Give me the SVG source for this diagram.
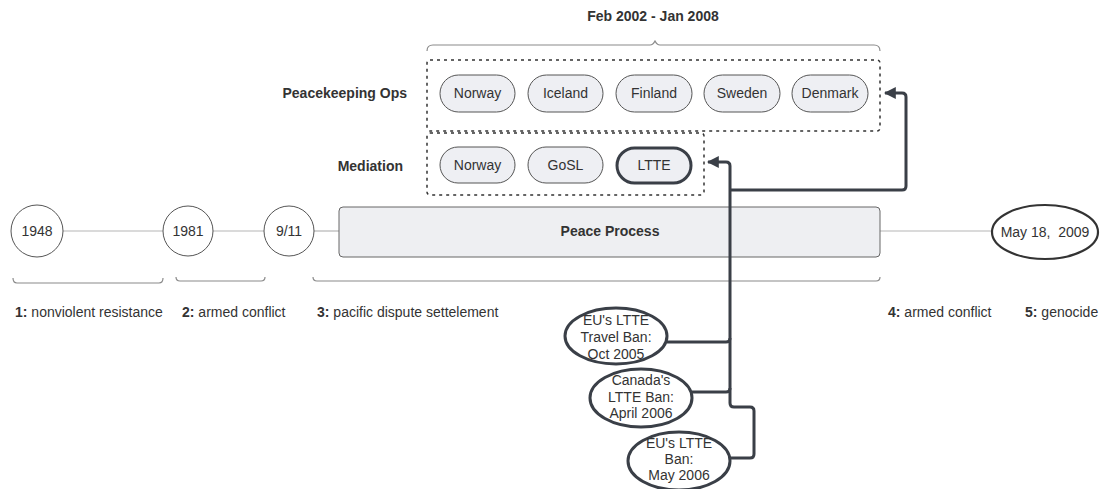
<svg xmlns="http://www.w3.org/2000/svg" width="1101" height="489" viewBox="0 0 1101 489">
<style>
text{font-family:"Liberation Sans",Arial,sans-serif;font-size:14px;fill:#333;}
.b{font-weight:bold;}
.c{text-anchor:middle;}
.e{text-anchor:end;}
.tl{stroke:#b5b5b5;stroke-width:1.2;fill:none;}
.circ{fill:#fff;stroke:#555;stroke-width:1;}
.pill{fill:#eeeff3;stroke:#555;stroke-width:1;}
.pillb{fill:#eeeff3;stroke:#3a3f47;stroke-width:3;}
.dash{fill:none;stroke:#333;stroke-width:1.5;stroke-dasharray:3 4;}
.brk{fill:none;stroke:#8a8a8a;stroke-width:1.2;}
.ell{fill:#fff;stroke:#3a3f47;stroke-width:3;}
.con{fill:none;stroke:#3a3f47;stroke-width:3;stroke-linejoin:round;}
</style>
<defs>
<marker id="ah" viewBox="0 0 10 10" refX="9" refY="5" markerWidth="4" markerHeight="4" orient="auto-start-reverse" markerUnits="strokeWidth">
<path d="M0,0 L10,5 L0,10 z" fill="#3a3f47"/>
</marker>
</defs>
<rect width="1101" height="489" fill="#fff"/>

<g id="timeline-lines">
<line class="tl" x1="63" y1="231" x2="163" y2="231"/>
<line class="tl" x1="213" y1="231" x2="264" y2="231"/>
<line class="tl" x1="314" y1="231" x2="339" y2="231"/>
<line class="tl" x1="880" y1="231" x2="992" y2="231"/>
</g>

<g id="brackets">
<path class="brk" d="M13,278 Q13,283 17,283 H159 Q163,283 163,278"/>
<path class="brk" d="M176,277 Q176,281 180,281 H261 Q265,281 265,277"/>
<path class="brk" d="M313,277 Q313,281 317,281 H876 Q880,281 880,277"/>
<path class="brk" d="M427,51 Q427,45 433,45 H650 Q653,45 655,41 Q657,45 660,45 H874 Q880,45 880,51"/>
</g>

<g id="n1948"><circle class="circ" cx="37" cy="231" r="26"/><text class="c" x="37" y="236">1948</text></g>
<g id="n1981"><circle class="circ" cx="188" cy="231" r="25"/><text class="c" x="188" y="236">1981</text></g>
<g id="n911"><circle class="circ" cx="289" cy="231" r="25"/><text class="c" x="289" y="236">9/11</text></g>
<g id="peace"><rect x="339" y="207" width="541" height="50" rx="4" fill="#eeeff2" stroke="#666" stroke-width="1"/><text class="b c" x="610" y="236">Peace Process</text></g>
<g id="may2009"><ellipse cx="1045" cy="232" rx="53" ry="27" fill="#fff" stroke="#333" stroke-width="2.2"/><text class="c" x="1045" y="237" xml:space="preserve">May 18,  2009</text></g>

<g id="labels">
<text x="15" y="317"><tspan class="b">1:</tspan> nonviolent resistance</text>
<text x="182" y="317"><tspan class="b">2:</tspan> armed conflict</text>
<text x="317" y="317"><tspan class="b">3:</tspan> pacific dispute settelement</text>
<text x="888" y="317"><tspan class="b">4:</tspan> armed conflict</text>
<text x="1025" y="317"><tspan class="b">5:</tspan> genocide</text>
<text class="b c" x="653" y="21">Feb 2002 - Jan 2008</text>
<text class="b e" x="407" y="98">Peacekeeping Ops</text>
<text class="b e" x="403" y="171">Mediation</text>
</g>

<g id="peacekeeping">
<rect class="dash" x="427" y="60" width="453" height="71" rx="3"/>
<g id="pk-norway"><rect class="pill" x="440" y="75" width="75" height="37" rx="18.5"/><text class="c" x="477.5" y="98">Norway</text></g>
<g id="pk-iceland"><rect class="pill" x="528" y="75" width="75" height="37" rx="18.5"/><text class="c" x="565.5" y="98">Iceland</text></g>
<g id="pk-finland"><rect class="pill" x="616" y="75" width="76" height="37" rx="18.5"/><text class="c" x="654" y="98">Finland</text></g>
<g id="pk-sweden"><rect class="pill" x="704" y="75" width="76" height="37" rx="18.5"/><text class="c" x="742" y="98">Sweden</text></g>
<g id="pk-denmark"><rect class="pill" x="792" y="75" width="76" height="37" rx="18.5"/><text class="c" x="830" y="98">Denmark</text></g>
</g>

<g id="mediation">
<rect class="dash" x="427" y="133" width="277" height="62" rx="3"/>
<g id="md-norway"><rect class="pill" x="440" y="147" width="75" height="36" rx="18"/><text class="c" x="477.5" y="170">Norway</text></g>
<g id="md-gosl"><rect class="pill" x="528" y="147" width="75" height="36" rx="18"/><text class="c" x="565.5" y="170">GoSL</text></g>
<g id="md-ltte"><rect class="pillb" x="617" y="148" width="74" height="35" rx="17.5"/><text class="c" x="654" y="170">LTTE</text></g>
</g>

<g id="bans">
<g id="ban-eu-travel"><ellipse class="ell" cx="616" cy="336" rx="51" ry="28"/>
<text class="c" x="616" y="325">EU's LTTE</text><text class="c" x="616" y="342">Travel Ban:</text><text class="c" x="616" y="359">Oct 2005</text></g>
<g id="ban-canada"><ellipse class="ell" cx="641" cy="398" rx="51" ry="29"/>
<text class="c" x="641" y="385">Canada's</text><text class="c" x="641" y="402">LTTE Ban:</text><text class="c" x="641" y="418">April 2006</text></g>
<g id="ban-eu"><ellipse class="ell" cx="679" cy="461" rx="51" ry="29"/>
<text class="c" x="679" y="448">EU's LTTE</text><text class="c" x="679" y="464">Ban:</text><text class="c" x="679" y="480">May 2006</text></g>
</g>

<g id="connectors">
<path class="con" d="M667,342 H726 Q730,342 730,338"/>
<path class="con" d="M692,392 H726 Q730,392 730,388"/>
<path class="con" d="M730,458 H750 Q754,458 754,454 V411 Q754,407 750,407 H734 Q730,407 730,403 V166 Q730,162 726,162 H708" marker-end="url(#ah)"/>
<path class="con" d="M730,190 H902 Q906,190 906,186 V97 Q906,93 902,93 H885" marker-end="url(#ah)"/>
</g>
</svg>
